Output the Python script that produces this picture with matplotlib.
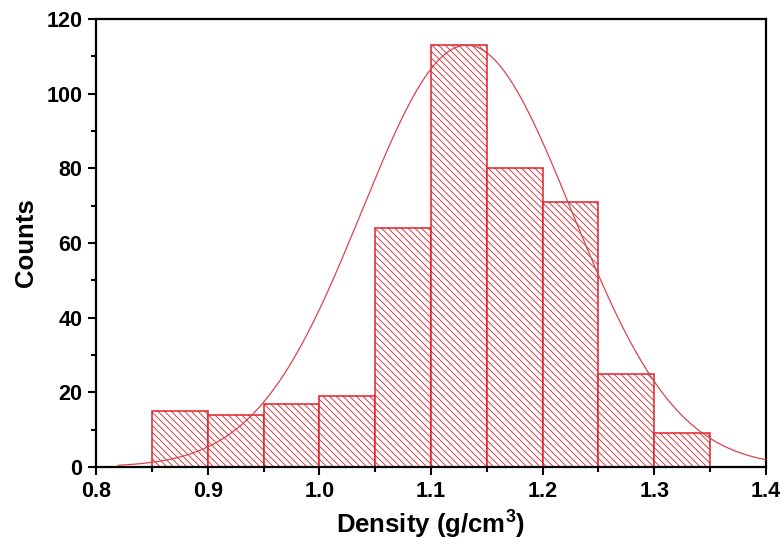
import numpy as np
import matplotlib
matplotlib.use("Agg")
import matplotlib.pyplot as plt
from matplotlib.ticker import MultipleLocator

# histogram bins (g/cm3) and counts
bin_edges = [0.85, 0.90, 0.95, 1.00, 1.05, 1.10, 1.15, 1.20, 1.25, 1.30, 1.35]
counts = [15, 14, 17, 19, 64, 113, 80, 71, 25, 9]

# gaussian fit parameters (estimated from the drawn curve)
fit_center = 1.132
fit_sigma = 0.094
fit_peak = 113
fit_range = (0.82, 1.40)

plt.rcParams["font.family"] = ["Liberation Sans", "DejaVu Sans"]
plt.rcParams["font.weight"] = "bold"
plt.rcParams["mathtext.fontset"] = "custom"
plt.rcParams["mathtext.rm"] = "Liberation Sans"
plt.rcParams["mathtext.bf"] = "Liberation Sans:bold"
plt.rcParams["hatch.color"] = "#e0303a"
plt.rcParams["hatch.linewidth"] = 0.6

fig = plt.figure(figsize=(7.82, 5.48), dpi=100)
ax = fig.add_axes([0.1228, 0.1478, 0.8567, 0.8175])

lefts = bin_edges[:-1]
widths = np.diff(bin_edges)
ax.bar(lefts, counts, width=widths, align="edge", facecolor="white",
       edgecolor="#e0202a", linewidth=1.1, hatch="\\\\\\\\\\", zorder=2)

xf = np.linspace(fit_range[0], fit_range[1], 400)
yf = fit_peak * np.exp(-(xf - fit_center) ** 2 / (2 * fit_sigma ** 2))
ax.plot(xf, yf, color="#d4464c", linewidth=0.9, zorder=3)

ax.set_xlim(0.8, 1.4)
ax.set_ylim(0, 120)
ax.xaxis.set_major_locator(MultipleLocator(0.1))
ax.xaxis.set_minor_locator(MultipleLocator(0.05))
ax.yaxis.set_major_locator(MultipleLocator(20))
ax.yaxis.set_minor_locator(MultipleLocator(10))
ax.set_xticklabels([f"{v:.1f}" for v in ax.get_xticks()])

for s in ax.spines.values():
    s.set_linewidth(1.6)
ax.tick_params(which="major", direction="out", length=6, width=1.5,
               labelsize=15.5, pad=4)
ax.tick_params(which="minor", direction="out", length=3.5, width=1.5)
ax.tick_params(top=False, right=False, which="both")

ax.set_xlabel("Density (g/cm$^{3}$)", fontsize=18.5, fontweight="bold", labelpad=4)
ax.set_ylabel("Counts", fontsize=18.5, fontweight="bold", labelpad=6)

fig.savefig("out.png", dpi=100)
